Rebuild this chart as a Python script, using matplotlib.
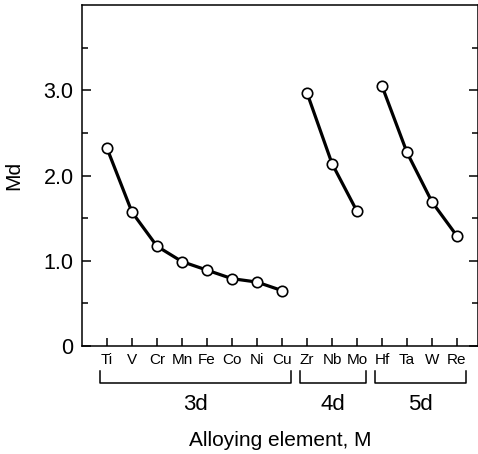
import numpy as np
import matplotlib.pyplot as plt

plt.rcParams['font.family'] = ['Liberation Sans', 'DejaVu Sans']

# Md values
el_3d = ['Ti', 'V', 'Cr', 'Mn', 'Fe', 'Co', 'Ni', 'Cu']
md_3d = [2.32, 1.57, 1.17, 0.99, 0.89, 0.79, 0.75, 0.65]
el_4d = ['Zr', 'Nb', 'Mo']
md_4d = [2.97, 2.14, 1.58]
el_5d = ['Hf', 'Ta', 'W', 'Re']
md_5d = [3.05, 2.27, 1.69, 1.29]

groups = [('3d', el_3d, md_3d), ('4d', el_4d, md_4d), ('5d', el_5d, md_5d)]

fig = plt.figure(figsize=(4.78, 4.54), dpi=100)
ax = fig.add_axes([82 / 478, 1 - 346 / 454, 396 / 478, 341 / 454])

labels = []
pos = 1
for name, els, vals in groups:
    xs = np.arange(pos, pos + len(els))
    ax.plot(xs, vals, color='black', lw=2.3, marker='o', ms=7.5,
            mfc='white', mec='black', mew=1.2, zorder=3, clip_on=False)
    # bracket under the group
    x0, x1 = xs[0] - 0.28, xs[-1] + 0.36
    ax.plot([x0, x0, x1, x1], [-0.073, -0.1085, -0.1085, -0.073],
            transform=ax.get_xaxis_transform(), color='black', lw=1.1,
            clip_on=False)
    ax.text((x0 + x1) / 2, -0.172, name, transform=ax.get_xaxis_transform(),
            ha='center', va='center', fontsize=16)
    labels += els
    pos += len(els)

ax.set_xlim(0, 15.84)
ax.set_ylim(0, 4.0)
ax.set_xticks(np.arange(1, len(labels) + 1))
ax.set_xticklabels(labels, fontsize=11)
ax.set_yticks([0, 1, 2, 3])
ax.set_yticklabels(['0', '1.0', '2.0', '3.0'], fontsize=15.5)
ax.set_yticks([0.5, 1.5, 2.5, 3.5], minor=True)

ax.tick_params(axis='x', direction='in', length=6, width=1.1, pad=5)
ax.tick_params(axis='y', which='major', direction='in', length=6.5, width=1.1,
               pad=6, right=True)
ax.tick_params(axis='y', which='minor', direction='in', length=4.5, width=1.1,
               right=True)
for s in ax.spines.values():
    s.set_linewidth(1.1)

ax.text(0.5, -0.276, 'Alloying element, M', transform=ax.transAxes,
        ha='center', va='center', fontsize=15)
ax.text(-0.172, 0.5, 'Md', transform=ax.transAxes, rotation=90,
        ha='center', va='center', fontsize=15)

fig.savefig('out.png', dpi=100)
